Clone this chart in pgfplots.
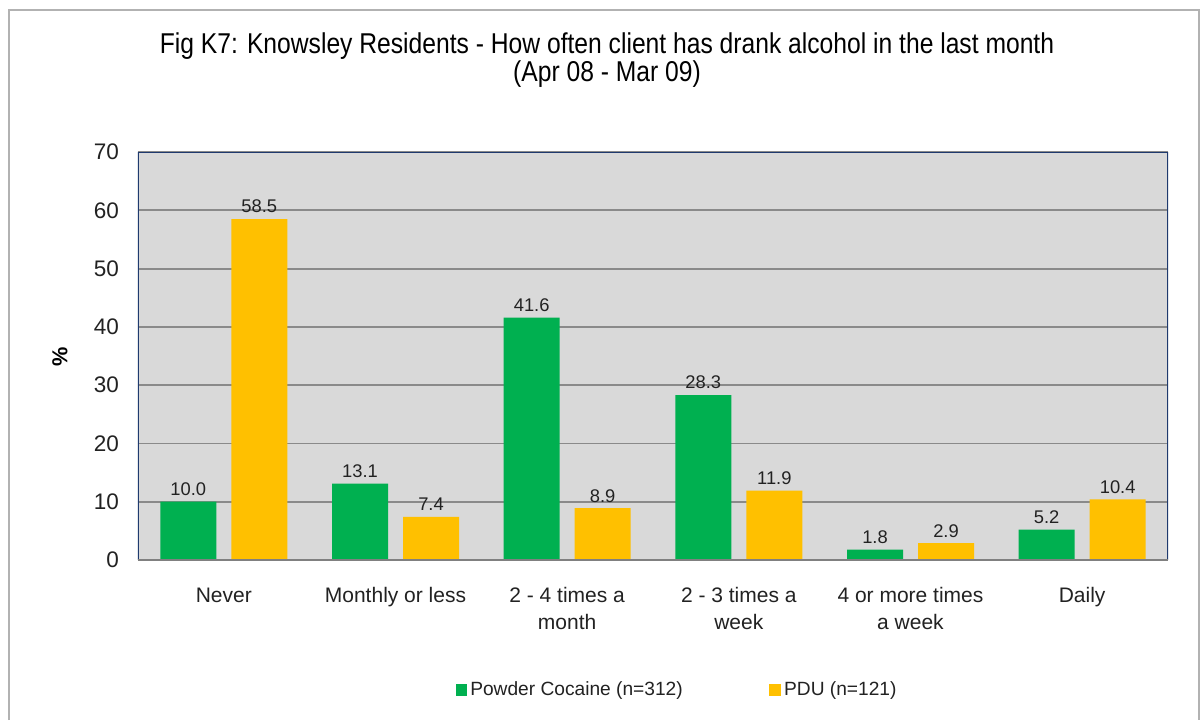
\documentclass[border=0pt]{standalone}
\usepackage{fontspec}
\setmainfont{Liberation Sans}
\newfontfamily\titlefont[FakeStretch=0.86]{Liberation Sans}
\usepackage{pgfplots}
\pgfplotsset{compat=1.18}
\definecolor{cgreen}{HTML}{00B050}
\definecolor{cyellow}{HTML}{FFC000}
\definecolor{plotbg}{HTML}{D9D9D9}
\definecolor{gridc}{HTML}{8A8A8A}
\definecolor{navy}{HTML}{1F3A6E}
\definecolor{txt}{HTML}{222222}
\begin{document}
\begin{tikzpicture}[x=0.6pt,y=0.6pt]
\fill[white] (0,0) rectangle (1202,720);
\draw[gray!60, line width=0.8pt] (9,0) -- (9,710) -- (1199,710) -- (1199,0);
\node[font=\titlefont\fontsize{17.2}{17}\selectfont, align=center, text=black] at (607,660) {Fig K7: Knowsley Residents - How often client has drank alcohol in the last month\\(Apr 08 - Mar 09)};
\node[font=\fontsize{13}{15}\selectfont\bfseries, rotate=90, text=black] at (60,363) {\%};
\begin{axis}[
  at={(82.8pt,96pt)}, anchor=south west,
  scale only axis, width=618pt, height=244.8pt,
  ybar, bar width=33.6pt, ybar=9pt,
  xmin=-0.5, xmax=5.5, ymin=0, ymax=70,
  ytick={0,10,...,70}, xtick={0,...,5},
  xticklabels={Never, Monthly or less, {2 - 4 times a\\month}, {2 - 3 times a\\week}, {4 or more times\\a week}, Daily},
  xticklabel style={align=center, font=\fontsize{12.6}{16.2}\selectfont, text=txt, anchor=north, yshift=-13pt},
  yticklabel style={font=\fontsize{13.5}{15}\selectfont, text=txt, xshift=-8pt},
  /pgf/number format/assume math mode=true,
  major tick length=0pt,
  axis background/.style={fill=plotbg},
  ymajorgrids, grid style={gridc, line width=1.1pt},
  axis line style={draw=none},
  nodes near coords,
  nodes near coords style={font=\fontsize{11}{12}\selectfont, text=txt, /pgf/number format/.cd, fixed, fixed zerofill, precision=1, assume math mode=true},
  legend style={at={(0.524,-0.319)}, anchor=center, draw=none, fill=none, font=\fontsize{11.5}{13}\selectfont, text=txt, /tikz/every even column/.append style={column sep=50pt}},
  legend columns=2,
  legend image code/.code={\fill[#1] (0pt,-3.4pt) rectangle (6.8pt,3.4pt);},
]
\addplot[fill=cgreen, draw=none] coordinates {(0,10.0) (1,13.1) (2,41.6) (3,28.3) (4,1.8) (5,5.2)};
\addplot[fill=cyellow, draw=none] coordinates {(0,58.5) (1,7.4) (2,8.9) (3,11.9) (4,2.9) (5,10.4)};
\legend{Powder Cocaine (n=312), PDU (n=121)}
\draw[navy, line width=1pt] (rel axis cs:0,0) -- (rel axis cs:0,1) -- (rel axis cs:1,1) -- (rel axis cs:1,0);
\draw[gray, line width=1.2pt] (rel axis cs:0,0) -- (rel axis cs:1,0);
\end{axis}
\end{tikzpicture}
\end{document}
